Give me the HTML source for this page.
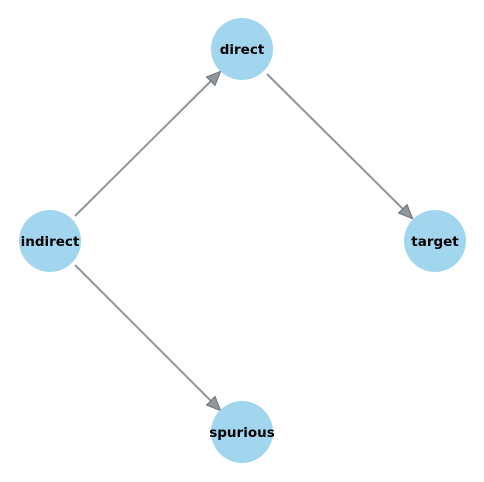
<!DOCTYPE html>
<html><head><meta charset="utf-8"><style>
html,body{margin:0;padding:0;background:#fff;}
svg{display:block;}
text{font-family:"DejaVu Sans","Liberation Sans",sans-serif;font-weight:bold;font-size:13.5px;fill:#000;}
</style></head><body>
<svg width="484" height="482" viewBox="0 0 484 482">
<defs>
<marker id="a" markerWidth="16" markerHeight="14" refX="14" refY="7" orient="auto" markerUnits="userSpaceOnUse">
<path d="M1,1 L15,7 L1,13 Z" fill="#8f969c" stroke="#6a7177" stroke-width="1"/>
</marker>
</defs>
<g stroke="#8f969c" stroke-width="2" fill="none">
<line x1="75" y1="216" x2="220" y2="72" marker-end="url(#a)"/>
<line x1="267" y1="74" x2="412" y2="218" marker-end="url(#a)"/>
<line x1="75" y1="265" x2="220" y2="410" marker-end="url(#a)"/>
</g>
<g fill="#a2d5ee">
<circle cx="242" cy="49" r="31"/>
<circle cx="50" cy="241" r="31"/>
<circle cx="435" cy="241" r="31"/>
<circle cx="242" cy="432" r="31"/>
</g>
<g text-anchor="middle">
<text x="242" y="54">direct</text>
<text x="50" y="246">indirect</text>
<text x="435" y="246">target</text>
<text x="242" y="437">spurious</text>
</g>
</svg>
</body></html>
